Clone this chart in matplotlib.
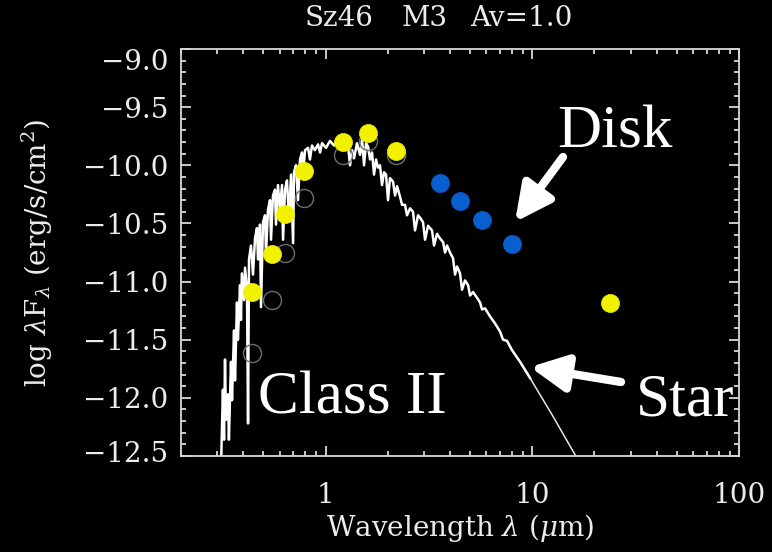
import matplotlib
matplotlib.use('Agg')
import matplotlib.pyplot as plt
import matplotlib.transforms as mtransforms
from matplotlib.ticker import FixedLocator, FixedFormatter, NullFormatter, MultipleLocator

# ---------------- data ----------------
obs_wl = [0.441, 0.551, 0.637, 0.787, 1.215, 1.606, 2.19, 23.8]
obs_logf = [-11.09, -10.76, -10.42, -10.05, -9.80, -9.72, -9.88, -11.18]

phot_wl = [0.441, 0.551, 0.637, 0.787, 1.215, 1.606, 2.19]
phot_logf = [-11.61, -11.16, -10.75, -10.28, -9.91, -9.79, -9.91]

irac_wl = [3.58, 4.48, 5.72, 7.98]
irac_logf = [-10.15, -10.31, -10.47, -10.68]

spec_wl = [0.312, 0.319, 0.323, 0.3265, 0.330, 0.3375, 0.341, 0.349, 0.353, 0.361,
           0.365, 0.373, 0.377, 0.386, 0.390, 0.394, 0.4035, 0.408, 0.417, 0.422,
           0.4265, 0.436, 0.446, 0.456, 0.466, 0.4715, 0.482, 0.4875, 0.4985, 0.510,
           0.5153, 0.527, 0.539, 0.545, 0.557, 0.570, 0.576, 0.589, 0.602, 0.616,
           0.623, 0.637, 0.651, 0.666, 0.681, 0.697, 0.704, 0.720, 0.736, 0.753,
           0.770, 0.778, 0.796, 0.823, 0.841, 0.860, 0.889, 0.920, 0.941, 0.962,
           1.006, 1.051, 1.099, 1.149, 1.202, 1.243, 1.285, 1.314, 1.344, 1.374,
           1.42, 1.469, 1.502, 1.536, 1.570, 1.606, 1.642, 1.679, 1.717, 1.755,
           1.795, 1.835, 1.876, 1.919, 1.962, 2.006, 2.051, 2.121, 2.169, 2.218,
           2.293, 2.345, 2.424, 2.479, 2.564, 2.650, 2.71, 2.803, 2.866, 2.963,
           3.03, 3.133, 3.275, 3.349, 3.463, 3.581, 3.703, 3.786, 3.872, 4.002,
           4.138, 4.232, 4.327, 4.474, 4.575, 4.731, 4.892, 5.003, 5.172, 5.408,
           5.591, 5.716, 5.910, 6.249, 6.607, 6.986, 7.224, 7.551, 7.985, 8.349,
           8.73, 9.23, 9.76, 12.61, 16.48, 17.03]
spec_logf = [-12.62, -11.93, -12.36, -11.67, -12.19, -11.97, -12.36, -11.69, -12.02, -11.42,
             -11.85, -11.18, -11.50, -11.03, -11.33, -10.93, -11.16, -10.88, -11.07, -12.22,
             -10.81, -10.69, -10.94, -10.63, -10.54, -10.81, -10.51, -11.22, -10.49, -10.43,
             -10.77, -10.38, -10.30, -10.64, -10.26, -10.21, -10.51, -10.17, -10.38, -10.17,
             -10.64, -10.21, -10.13, -10.47, -10.08, -10.67, -10.06, -10.00, -10.30, -9.95,
             -9.89, -10.08, -9.87, -9.85, -9.95, -9.83, -9.87, -9.82, -9.89, -9.81,
             -9.85, -9.79, -9.83, -9.78, -9.81, -9.87, -9.83, -10.00, -9.87, -9.94,
             -9.81, -9.91, -9.78, -10.00, -9.81, -9.84, -9.95, -9.89, -10.08, -9.95,
             -10.02, -10.00, -10.17, -10.06, -10.08, -10.30, -10.11, -10.14, -10.26, -10.18,
             -10.27, -10.34, -10.34, -10.43, -10.37, -10.40, -10.56, -10.43, -10.45, -10.49,
             -10.64, -10.52, -10.56, -10.69, -10.59, -10.63, -10.66, -10.75, -10.69, -10.75,
             -10.80, -10.94, -10.87, -10.93, -11.07, -10.99, -11.03, -11.12, -11.09, -11.14,
             -11.18, -11.24, -11.23, -11.30, -11.36, -11.43, -11.50, -11.51, -11.59, -11.64,
             -11.69, -11.76, -11.83, -12.16, -12.52, -12.58]

xtick_vals = [1, 10, 100]
xtick_labels = ['1', '10', '100']
ytick_vals = [-9.0, -9.5, -10.0, -10.5, -11.0, -11.5, -12.0, -12.5]
ytick_labels = ['\u22129.0', '\u22129.5', '\u221210.0', '\u221210.5', '\u221211.0',
                '\u221211.5', '\u221212.0', '\u221212.5']

title_parts = ['Sz46', 'M3', 'Av=1.0']

# ---------------- figure ----------------
W, H = 772, 552
plt.rcParams['font.family'] = ['DejaVu Serif']
plt.rcParams['mathtext.fontset'] = 'dejavuserif'

fig = plt.figure(figsize=(W / 100, H / 100), dpi=100, facecolor='black')
L, R, T, B = 181, 739, 49, 456
ax = fig.add_axes([L / W, 1 - B / H, (R - L) / W, (B - T) / H])
ax.set_facecolor('black')

fg = '#d8d8d8'
txt_col = '#ececec'
fs = 20
ax.set_xscale('log')
ax.set_xlim(0.2, 100)
ax.set_ylim(-12.5, -9.0)

# noisy part of the model spectrum drawn heavier, smooth Rayleigh-Jeans tail thinner
n_noisy = spec_wl.index(9.76) + 1
ax.plot(spec_wl[:n_noisy], spec_logf[:n_noisy], color='white', lw=1.8, zorder=2)
ax.plot(spec_wl[n_noisy - 1:], spec_logf[n_noisy - 1:], color='#e6e6e6', lw=1.1, zorder=2)
ax.plot(phot_wl, phot_logf, ls='none', marker='o', ms=13, mfc='none',
        mec='#6e6e6e', mew=1.0, zorder=3)
ax.plot(irac_wl, irac_logf, ls='none', marker='o', ms=13, mfc='#0a5fcf',
        mec='#0a5fcf', mew=0.5, zorder=4)
ax.plot(obs_wl, obs_logf, ls='none', marker='o', ms=13, mfc='#f2f200',
        mec='#f2f200', mew=0.5, zorder=5)

for s in ax.spines.values():
    s.set_color(fg)
    s.set_linewidth(1.3)

ax.xaxis.set_major_locator(FixedLocator(xtick_vals))
ax.xaxis.set_major_formatter(FixedFormatter(xtick_labels))
minors = [m * 10.0 ** e for e in (-1, 0, 1) for m in range(2, 10) if 0.2 <= m * 10.0 ** e <= 100]
ax.xaxis.set_minor_locator(FixedLocator(minors))
ax.xaxis.set_minor_formatter(NullFormatter())
ax.yaxis.set_major_locator(FixedLocator(ytick_vals))
ax.yaxis.set_major_formatter(FixedFormatter(ytick_labels))
ax.yaxis.set_minor_locator(MultipleLocator(0.1))

ax.tick_params(which='both', direction='in', top=True, right=True, color=fg, width=1.3)
ax.tick_params(which='major', length=7.5)
ax.tick_params(which='minor', length=3.8)
ax.tick_params(axis='y', which='major', labelsize=fs, labelcolor=txt_col, pad=9)
ax.tick_params(axis='x', which='major', labelsize=fs, labelcolor=txt_col, pad=19)

# IDL-style shift of the end labels on the y axis
fig.canvas.draw()
ylabels = ax.yaxis.get_majorticklabels()
ylabels[0].set_transform(ylabels[0].get_transform() +
                         mtransforms.ScaledTranslation(0, -0.10, fig.dpi_scale_trans))
ylabels[-1].set_transform(ylabels[-1].get_transform() +
                          mtransforms.ScaledTranslation(0, 0.04, fig.dpi_scale_trans))

ax.set_xlabel(r'Wavelength $\lambda$ ($\mu$m)', color=txt_col, fontsize=fs, labelpad=2)
ax.set_ylabel(r'log $\lambda$F$_\lambda$ (erg/s/cm$^2$)', color=txt_col, fontsize=fs, labelpad=20)

# title pieces
for txt, xp in zip(title_parts, [305, 402, 470]):
    fig.text(xp / W, 1 - 18 / H, txt, color=txt_col, fontsize=fs, ha='left', va='center')

# big annotations
big = dict(color='white', fontsize=44, family='Liberation Serif', va='baseline', ha='left')
fig.text(557 / W, 1 - 147 / H, 'Disk', **big)
fig.text(258 / W, 1 - 413 / H, 'Class II', **big)
fig.text(636 / W, 1 - 415 / H, 'Star', **big)

arrow = dict(arrowstyle='-|>,head_length=1.1,head_width=0.55', color='white', lw=6,
             shrinkA=0, shrinkB=0, mutation_scale=20)
ax.annotate('', xy=(515, H - 222), xycoords='figure pixels',
            xytext=(563, H - 157), textcoords='figure pixels', arrowprops=arrow)
ax.annotate('', xy=(530, H - 367), xycoords='figure pixels',
            xytext=(621, H - 382), textcoords='figure pixels', arrowprops=arrow)

fig.savefig('out.png', dpi=100, facecolor='black')
